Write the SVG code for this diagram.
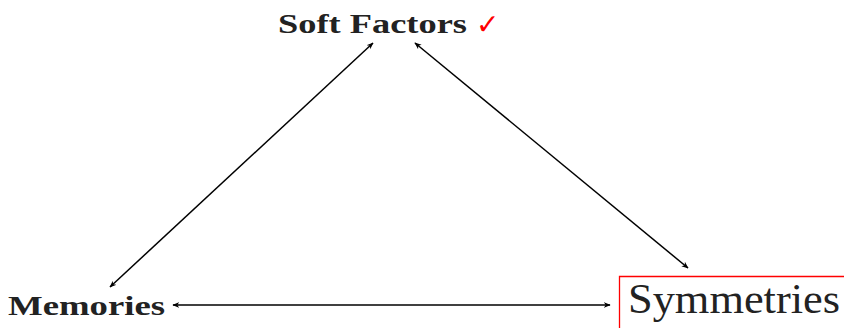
<svg xmlns="http://www.w3.org/2000/svg" width="844" height="328" viewBox="0 0 844 328">
<style>
.lbl{font-family:"Liberation Serif","DejaVu Serif",serif;fill:#222}
.b{font-weight:bold}
.conn line{stroke:#000;stroke-width:1.5;fill:none}
</style>
<defs>
<marker id="ah" viewBox="0 0 10 10" refX="9" refY="5" markerWidth="7" markerHeight="7" orient="auto-start-reverse" markerUnits="userSpaceOnUse">
<path d="M0,1 L10,5 L0,9 L3,5 Z" fill="#000"/>
</marker>
</defs>
<rect width="844" height="328" fill="#fff"/>
<g id="soft-factors">
<text class="lbl b" x="278" y="33" font-size="27" textLength="189" lengthAdjust="spacingAndGlyphs">Soft Factors</text>
<text x="476" y="34" font-family="DejaVu Sans,sans-serif" font-size="28" fill="#f00">✓</text>
</g>
<g id="memories">
<text class="lbl b" x="8" y="315" font-size="27" textLength="157" lengthAdjust="spacingAndGlyphs">Memories</text>
</g>
<g id="symmetries">
<path d="M844,276.5 H619.5 V328" fill="none" stroke="#f00" stroke-width="1.3"/>
<text class="lbl" x="628" y="313" font-size="43" textLength="212" lengthAdjust="spacingAndGlyphs">Symmetries</text>
</g>
<g class="conn">
<line x1="373" y1="43" x2="110" y2="287" marker-start="url(#ah)" marker-end="url(#ah)"/>
<line x1="415" y1="43" x2="688" y2="268" marker-start="url(#ah)" marker-end="url(#ah)"/>
<line x1="173" y1="305" x2="610" y2="305" marker-start="url(#ah)" marker-end="url(#ah)"/>
</g>
</svg>
